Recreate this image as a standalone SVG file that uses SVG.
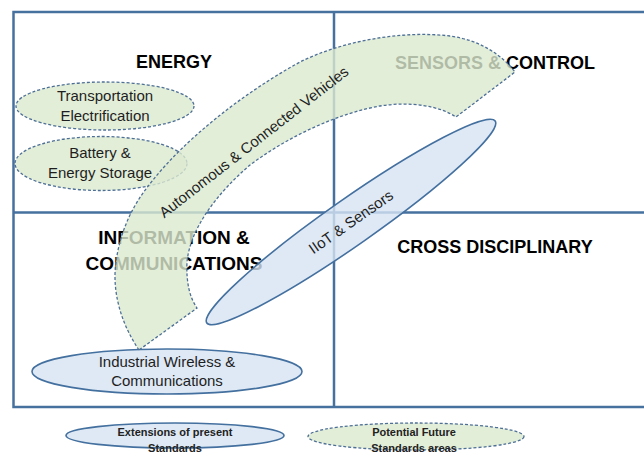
<svg xmlns="http://www.w3.org/2000/svg" width="644" height="457" viewBox="0 0 644 457">
<defs>
<style>
.frame{fill:none;stroke:#46719f;stroke-width:2.5}
.head{font-family:"Liberation Sans",Arial,sans-serif;font-weight:bold;font-size:18px;fill:#000;text-anchor:middle}
.lbl{font-family:"Liberation Sans",Arial,sans-serif;font-size:15px;fill:#1e1e1e;text-anchor:middle}
.leg{font-family:"Liberation Sans",Arial,sans-serif;font-size:11px;font-weight:bold;fill:#222;text-anchor:middle}
.green{fill:#dceacf;fill-opacity:0.8;stroke:#4d6f96;stroke-width:1.3;stroke-dasharray:3 2}
.blue{fill:#d6e3f2;fill-opacity:0.8;stroke:#44709f;stroke-width:1.6}
</style>
</defs>
<rect width="644" height="457" fill="#fff"/>
<g id="grid">
<rect class="frame" x="13.5" y="12" width="640" height="395"/>
<line class="frame" x1="334" y1="12" x2="334" y2="407"/>
<line class="frame" x1="13.5" y1="212.5" x2="644" y2="212.5"/>
</g>
<g id="quadrant-labels">
<text class="head" x="174" y="68">ENERGY</text>
<text class="head" x="495" y="69">SENSORS &amp; CONTROL</text>
<text class="head" x="174" y="244" style="font-size:19px">INFORMATION &amp;</text>
<text class="head" x="174" y="270" style="font-size:19px">COMMUNICATIONS</text>
<text class="head" x="495" y="253">CROSS DISCIPLINARY</text>
</g>
<g id="transportation-electrification">
<ellipse class="green" cx="105" cy="106" rx="89" ry="24"/>
<text class="lbl" x="105" y="101">Transportation</text>
<text class="lbl" x="105" y="121">Electrification</text>
</g>
<g id="battery-energy-storage">
<ellipse class="green" cx="101" cy="163.5" rx="86" ry="27"/>
</g>
<g id="industrial-wireless">
<ellipse class="blue" cx="167" cy="371.5" rx="135" ry="22.5"/>
<text class="lbl" x="167" y="367">Industrial Wireless &amp;</text>
<text class="lbl" x="167" y="386">Communications</text>
</g>
<g id="autonomous-connected-vehicles">
<path class="green" d="M139,350 C120,322 112,290 116,262 C120,232 132,205 153,180 C185,140 240,95 300,62 C340,42 400,30 450,36 C480,40 502,55 515,72 L456,117 C440,106 410,101 380,106 C340,113 290,135 250,165 C215,195 190,230 187,262 C186,283 190,298 197,308 Z"/>
<text class="lbl" transform="translate(257,146) rotate(-38)">Autonomous &amp; Connected Vehicles</text>
</g>
<g id="battery-label">
<text class="lbl" x="100" y="158">Battery &amp;</text>
<text class="lbl" x="100" y="178">Energy Storage</text>
</g>
<g id="iiot-sensors">
<ellipse class="blue" cx="0" cy="0" rx="176" ry="23" transform="translate(351,222) rotate(-35)"/>
<text class="lbl" transform="translate(351,222) rotate(-35)" y="5">IIoT &amp; Sensors</text>
</g>
<g id="legend-present">
<ellipse class="blue" cx="175" cy="435.5" rx="109" ry="12.5"/>
<text class="leg" x="175" y="436">Extensions of present</text>
<text class="leg" x="175" y="452">Standards</text>
</g>
<g id="legend-future">
<ellipse class="green" cx="416" cy="436.5" rx="108" ry="13.5"/>
<text class="leg" x="414" y="436">Potential Future</text>
<text class="leg" x="414" y="452">Standards areas</text>
</g>
<g id="connectors"/>
</svg>
